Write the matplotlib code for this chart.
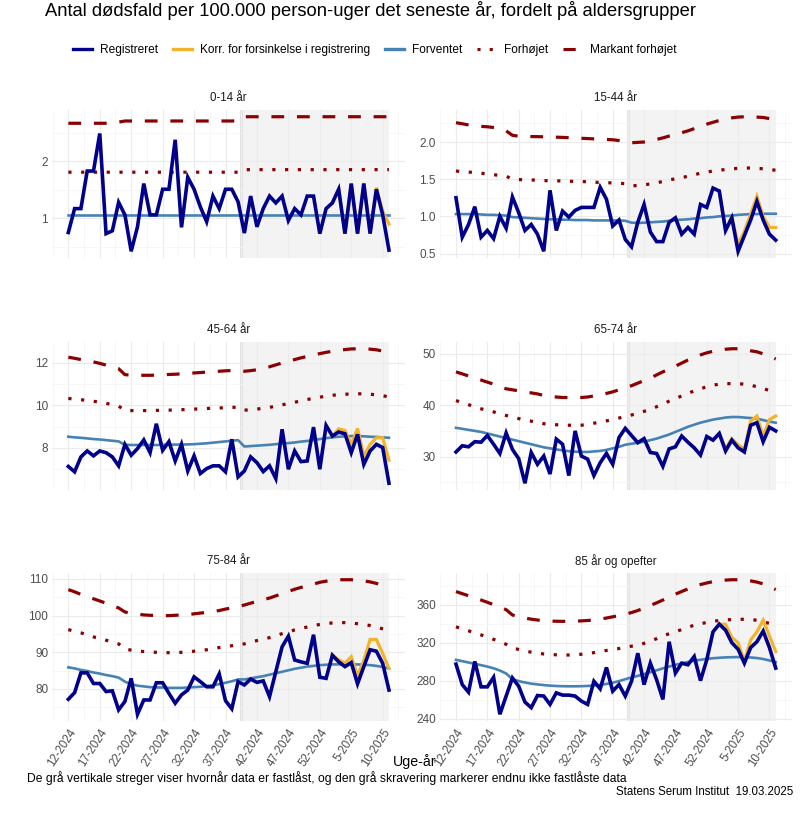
import matplotlib
matplotlib.use("Agg")
import matplotlib.pyplot as plt
from matplotlib.lines import Line2D
from matplotlib.ticker import FixedLocator, MultipleLocator, FormatStrFormatter

plt.rcParams['font.family'] = ['Liberation Sans', 'DejaVu Sans']

# ---------------- data ----------------
weeks = [f"{w}-2024" for w in range(12, 53)] + [f"{w}-2025" for w in range(1, 12)]
tick_labels = ["12-2024", "17-2024", "22-2024", "27-2024", "32-2024", "37-2024",
               "42-2024", "47-2024", "52-2024", "5-2025", "10-2025"]
locked_after = "39-2024"   # last week with locked data (grey line / shading start)

titles = ["0-14 år", "15-44 år", "45-64 år", "65-74 år", "75-84 år", "85 år og opefter"]

reg_0_14 = [0.75, 1.17, 1.17, 1.83, 1.83, 2.49, 0.73, 0.78, 1.28, 1.06, 0.42, 0.85, 1.61,
            1.06, 1.06, 1.51, 1.51, 2.38, 0.84, 1.72, 1.51, 1.20, 0.94, 1.39, 1.17, 1.51,
            1.51, 1.29, 0.74, 1.39, 0.85, 1.17, 1.39, 1.27, 1.39, 0.96, 1.17, 1.06, 1.39,
            1.39, 0.73, 1.17, 1.27, 1.51, 0.73, 1.61, 0.73, 1.61, 0.73, 1.51, 1.06, 0.44]
korr_0_14 = [1.27, 1.51, 0.73, 1.61, 0.74, 1.62, 0.75, 1.54, 1.12, 0.90]
exp_0_14 = [1.05, 1.05, 1.05, 1.05, 1.05, 1.05, 1.05, 1.05, 1.05, 1.05, 1.05, 1.05, 1.05,
            1.05, 1.05, 1.05, 1.05, 1.05, 1.05, 1.05, 1.05, 1.05, 1.05, 1.05, 1.05, 1.05,
            1.05, 1.05, 1.05, 1.05, 1.05, 1.05, 1.05, 1.05, 1.05, 1.05, 1.05, 1.05, 1.05,
            1.05, 1.05, 1.05, 1.05, 1.05, 1.05, 1.05, 1.05, 1.05, 1.05, 1.05, 1.05, 1.05]
forh_0_14 = [1.81, 1.81, 1.81, 1.81, 1.81, 1.81, 1.81, 1.81, 1.81, 1.81, 1.81, 1.81, 1.81,
             1.81, 1.81, 1.81, 1.81, 1.81, 1.81, 1.81, 1.81, 1.81, 1.81, 1.81, 1.81, 1.81,
             1.81, 1.81, 1.855, 1.855, 1.855, 1.855, 1.855, 1.855, 1.855, 1.855, 1.855,
             1.855, 1.855, 1.855, 1.855, 1.855, 1.855, 1.855, 1.855, 1.855, 1.855, 1.855,
             1.855, 1.855, 1.855, 1.855]
mark_0_14 = [2.67, 2.67, 2.67, 2.67, 2.67, 2.67, 2.67, 2.67, 2.69, 2.71, 2.71, 2.71, 2.71,
             2.71, 2.71, 2.71, 2.71, 2.71, 2.71, 2.71, 2.71, 2.71, 2.71, 2.71, 2.71, 2.71,
             2.71, 2.715, 2.785, 2.785, 2.785, 2.785, 2.785, 2.785, 2.785, 2.785, 2.785,
             2.785, 2.785, 2.785, 2.785, 2.785, 2.785, 2.785, 2.785, 2.785, 2.785, 2.785,
             2.785, 2.785, 2.785, 2.785]

reg_15_44 = [1.25, 0.72, 0.89, 1.13, 0.72, 0.81, 0.70, 1.00, 0.84, 1.26, 1.05, 0.81, 0.89,
             0.76, 0.53, 1.35, 0.81, 1.07, 0.99, 1.08, 1.12, 1.12, 1.12, 1.39, 1.23, 0.87,
             0.95, 0.69, 0.59, 0.92, 1.16, 0.79, 0.66, 0.66, 0.92, 0.98, 0.76, 0.85, 0.76,
             1.16, 1.12, 1.38, 1.34, 0.81, 0.98, 0.53, 0.74, 0.95, 1.20, 0.95, 0.76, 0.68]
korr_15_44 = [1.34, 0.81, 1.00, 0.62, 0.80, 1.03, 1.27, 1.00, 0.85, 0.85]
exp_15_44 = [1.03, 1.03, 1.03, 1.03, 1.025, 1.02, 1.02, 1.015, 1.01, 0.99, 0.985, 0.98,
             0.975, 0.97, 0.965, 0.96, 0.96, 0.955, 0.955, 0.95, 0.95, 0.95, 0.945, 0.945,
             0.945, 0.945, 0.945, 0.94, 0.915, 0.91, 0.915, 0.92, 0.925, 0.93, 0.94, 0.95,
             0.955, 0.96, 0.97, 0.975, 0.985, 0.99, 1.0, 1.005, 1.01, 1.02, 1.025, 1.03,
             1.03, 1.035, 1.035, 1.035]
forh_15_44 = [1.61, 1.60, 1.595, 1.59, 1.58, 1.57, 1.56, 1.55, 1.54, 1.50, 1.495, 1.49,
              1.49, 1.485, 1.48, 1.48, 1.478, 1.475, 1.472, 1.47, 1.468, 1.465, 1.46,
              1.455, 1.452, 1.45, 1.445, 1.44, 1.41, 1.415, 1.425, 1.435, 1.45, 1.47, 1.49,
              1.505, 1.52, 1.54, 1.56, 1.58, 1.595, 1.61, 1.62, 1.63, 1.64, 1.645, 1.65,
              1.65, 1.645, 1.64, 1.63, 1.62]
mark_15_44 = [2.26, 2.245, 2.23, 2.22, 2.21, 2.205, 2.195, 2.18, 2.15, 2.09, 2.078, 2.075,
              2.073, 2.072, 2.07, 2.068, 2.065, 2.062, 2.058, 2.055, 2.05, 2.046, 2.042,
              2.038, 2.034, 2.03, 2.02, 2.01, 1.99, 1.995, 2.0, 2.015, 2.035, 2.055, 2.08,
              2.10, 2.125, 2.15, 2.18, 2.21, 2.24, 2.265, 2.29, 2.31, 2.325, 2.335, 2.34,
              2.34, 2.335, 2.33, 2.315, 2.30]

reg_45_64 = [7.13, 6.88, 7.58, 7.86, 7.63, 7.86, 7.78, 7.58, 7.16, 8.17, 7.66, 7.97, 8.38,
             7.78, 9.14, 7.89, 8.30, 7.39, 8.17, 6.92, 7.63, 6.80, 7.03, 7.16, 7.16, 6.88,
             8.41, 6.64, 6.92, 7.58, 7.31, 6.89, 7.16, 6.56, 8.88, 7.00, 7.86, 7.36, 7.39,
             8.98, 7.00, 9.06, 8.56, 8.75, 8.67, 7.78, 8.64, 7.23, 7.86, 8.17, 8.02, 6.34]
korr_45_64 = [8.56, 8.90, 8.83, 8.17, 8.92, 7.63, 8.17, 8.48, 8.48, 7.42]
exp_45_64 = [8.53, 8.50, 8.48, 8.45, 8.42, 8.40, 8.37, 8.34, 8.31, 8.15, 8.14, 8.14, 8.14,
             8.14, 8.14, 8.15, 8.15, 8.16, 8.16, 8.17, 8.18, 8.20, 8.22, 8.25, 8.28, 8.31,
             8.34, 8.37, 8.07, 8.09, 8.11, 8.13, 8.15, 8.18, 8.20, 8.23, 8.26, 8.30, 8.33,
             8.37, 8.42, 8.46, 8.50, 8.53, 8.55, 8.56, 8.56, 8.55, 8.53, 8.52, 8.50, 8.48]
forh_45_64 = [10.33, 10.30, 10.27, 10.24, 10.20, 10.15, 10.10, 10.04, 9.97, 9.77, 9.76,
              9.76, 9.76, 9.76, 9.77, 9.77, 9.78, 9.79, 9.80, 9.82, 9.83, 9.84, 9.86, 9.87,
              9.88, 9.90, 9.91, 9.92, 9.78, 9.80, 9.83, 9.87, 9.91, 9.97, 10.03, 10.09,
              10.15, 10.22, 10.28, 10.34, 10.39, 10.44, 10.48, 10.51, 10.53, 10.54, 10.55,
              10.55, 10.53, 10.50, 10.46, 10.40]
mark_45_64 = [12.27, 12.22, 12.16, 12.11, 12.05, 11.98, 11.90, 11.82, 11.73, 11.45, 11.43,
              11.42, 11.42, 11.42, 11.43, 11.44, 11.46, 11.47, 11.49, 11.51, 11.53, 11.55,
              11.57, 11.59, 11.61, 11.63, 11.645, 11.66, 11.61, 11.64, 11.68, 11.74, 11.82,
              11.91, 12.00, 12.08, 12.16, 12.24, 12.31, 12.38, 12.44, 12.50, 12.55, 12.59,
              12.63, 12.66, 12.67, 12.67, 12.65, 12.62, 12.56, 12.48]

reg_65_74 = [30.9, 32.1, 31.9, 32.9, 32.8, 34.1, 32.4, 30.6, 34.6, 31.4, 29.6, 24.8, 30.8,
             28.5, 30.1, 26.6, 33.4, 32.4, 26.3, 35.0, 30.1, 29.5, 26.3, 28.8, 30.6, 28.5,
             33.7, 35.5, 34.1, 32.7, 33.5, 30.8, 30.6, 28.1, 31.5, 31.9, 34.0, 32.8, 31.7,
             30.3, 33.9, 33.2, 34.5, 31.1, 33.2, 31.7, 30.9, 36.1, 36.6, 32.9, 35.7, 35.0]
korr_65_74 = [34.5, 31.6, 33.5, 32.3, 31.4, 36.9, 37.9, 34.0, 37.2, 37.9]
exp_65_74 = [35.6, 35.4, 35.2, 35.0, 34.8, 34.5, 34.2, 33.9, 33.6, 33.3, 33.0, 32.7, 32.4,
             32.1, 31.8, 31.6, 31.4, 31.2, 31.05, 30.95, 30.9, 30.9, 31.0, 31.1, 31.3, 31.6,
             31.9, 32.3, 32.5, 32.7, 32.9, 33.2, 33.5, 33.9, 34.3, 34.8, 35.3, 35.8, 36.2,
             36.6, 36.9, 37.2, 37.4, 37.6, 37.7, 37.7, 37.6, 37.5, 37.4, 37.1, 36.8, 36.6]
forh_65_74 = [40.9, 40.5, 40.1, 39.7, 39.3, 39.0, 38.7, 38.3, 38.0, 37.7, 37.4, 37.1, 36.9,
              36.6, 36.4, 36.3, 36.2, 36.1, 36.1, 36.1, 36.1, 36.3, 36.5, 36.7, 36.95, 37.2,
              37.5, 37.8, 38.1, 38.4, 38.8, 39.2, 39.7, 40.2, 40.8, 41.3, 41.8, 42.3, 42.8,
              43.2, 43.6, 43.9, 44.1, 44.2, 44.2, 44.2, 44.1, 43.9, 43.6, 43.2, 42.9, 42.6]
mark_65_74 = [46.5, 46.1, 45.7, 45.3, 44.9, 44.5, 44.1, 43.6, 43.2, 43.0, 42.8, 42.6, 42.4,
              42.2, 41.9, 41.7, 41.6, 41.5, 41.5, 41.5, 41.5, 41.6, 41.8, 42.0, 42.3, 42.6,
              43.0, 43.4, 43.8, 44.3, 44.8, 45.3, 45.9, 46.5, 47.0, 47.6, 48.2, 48.8, 49.3,
              49.8, 50.2, 50.5, 50.7, 50.9, 51.0, 51.0, 50.9, 50.6, 50.4, 50.0, 49.5, 49.0]

reg_75_84 = [77.2, 79.0, 84.4, 84.4, 81.5, 81.5, 79.3, 79.5, 74.3, 76.6, 82.9, 73.1, 77.0,
             77.0, 81.7, 81.7, 78.8, 76.1, 78.4, 79.7, 83.3, 82.0, 80.6, 80.6, 84.1, 76.8,
             74.6, 82.0, 81.1, 82.7, 81.8, 82.2, 77.9, 84.7, 91.5, 94.4, 87.9, 87.4, 87.0,
             94.8, 83.2, 82.9, 89.2, 87.4, 86.1, 87.2, 81.4, 86.1, 90.7, 90.3, 87.0, 79.7]
korr_75_84 = [89.2, 88.0, 87.0, 88.8, 83.6, 87.8, 93.5, 93.5, 89.7, 85.6]
exp_75_84 = [85.9, 85.6, 85.2, 84.9, 84.5, 84.2, 83.8, 83.5, 83.1, 82.0, 81.3, 80.9, 80.7,
             80.5, 80.4, 80.4, 80.3, 80.3, 80.3, 80.4, 80.5, 80.6, 80.8, 81.0, 81.3, 81.7,
             82.1, 82.6, 82.6, 82.9, 83.2, 83.5, 83.9, 84.3, 84.7, 85.1, 85.5, 85.8, 86.1,
             86.3, 86.5, 86.6, 86.7, 86.7, 86.7, 86.7, 86.7, 86.6, 86.5, 86.3, 86.0, 85.6]
forh_75_84 = [96.2, 95.7, 95.3, 94.8, 94.2, 93.8, 93.3, 92.8, 92.3, 90.9, 90.6, 90.4, 90.2,
              90.1, 90.0, 89.9, 89.9, 89.9, 90.0, 90.1, 90.3, 90.5, 90.7, 91.0, 91.3, 91.5,
              91.8, 92.1, 92.3, 92.8, 93.2, 93.6, 94.0, 94.5, 95.1, 95.6, 96.1, 96.5, 96.9,
              97.3, 97.6, 97.9, 98.0, 98.1, 98.1, 98.0, 97.8, 97.6, 97.3, 96.9, 96.4, 96.0]
mark_75_84 = [107.1, 106.5, 105.8, 105.2, 104.6, 104.0, 103.4, 102.7, 102.1, 101.0, 100.6,
              100.4, 100.2, 100.1, 100.05, 100.0, 100.0, 100.1, 100.2, 100.3, 100.5, 100.7,
              100.9, 101.1, 101.4, 101.8, 102.1, 102.5, 102.9, 103.4, 103.9, 104.4, 104.8,
              105.4, 106.0, 106.6, 107.2, 107.7, 108.2, 108.6, 109.1, 109.4, 109.6, 109.8,
              109.8, 109.8, 109.7, 109.5, 109.2, 108.8, 108.3, 107.8]

reg_85 = [297.4, 275.8, 267.8, 300.2, 273.4, 273.4, 283.5, 244.5, 263.7, 282.8, 274.1,
          257.4, 251.5, 264.3, 263.7, 254.9, 267.1, 264.7, 264.7, 263.7, 258.4, 254.9,
          279.3, 271.3, 293.9, 268.9, 275.8, 263.7, 279.3, 308.9, 275.8, 298.4, 281.0,
          260.2, 321.0, 288.0, 298.4, 296.7, 305.4, 280.0, 301.9, 331.5, 339.5, 333.2,
          320.0, 313.0, 298.4, 314.8, 321.0, 332.2, 314.8, 293.2]
korr_85 = [339.5, 339.5, 325.6, 320.0, 300.2, 322.8, 331.5, 343.7, 327.0, 310.6]
exp_85 = [301.9, 300.5, 299.1, 297.7, 296.3, 294.8, 293.0, 290.6, 287.5, 281.5, 279.5,
          278.0, 276.8, 276.0, 275.3, 274.7, 274.3, 274.1, 274.0, 274.0, 274.1, 274.4,
          274.8, 275.5, 276.5, 277.8, 279.5, 281.5, 283.3, 285.0, 286.9, 288.9, 290.9,
          292.9, 294.8, 296.6, 298.2, 299.6, 300.9, 302.0, 302.9, 303.6, 304.1, 304.5,
          304.7, 304.8, 304.7, 304.4, 303.8, 302.8, 301.2, 299.5]
forh_85 = [336.7, 334.6, 332.5, 330.4, 328.2, 325.9, 323.5, 321.0, 318.3, 314.8, 312.8,
           311.2, 310.0, 309.0, 308.1, 307.6, 307.2, 307.0, 307.0, 307.3, 307.8, 308.6,
           309.5, 310.6, 311.8, 312.8, 313.8, 315.2, 316.3, 317.3, 319.3, 321.8, 324.2,
           327.0, 329.5, 331.6, 333.8, 336.3, 338.4, 340.0, 341.3, 342.5, 343.4, 344.0,
           344.4, 344.6, 344.7, 344.5, 343.6, 342.0, 340.3, 338.5]
mark_85 = [373.9, 371.7, 369.5, 367.3, 365.0, 362.6, 360.1, 357.5, 354.8, 349.2, 347.5,
           346.0, 344.8, 343.9, 343.2, 342.8, 342.6, 342.5, 342.5, 342.7, 343.0, 343.4,
           344.0, 344.9, 346.0, 347.3, 348.6, 350.0, 351.8, 353.9, 356.5, 359.3, 362.0,
           365.0, 368.1, 371.2, 374.0, 376.7, 379.2, 381.3, 383.0, 384.4, 385.4, 386.0,
           386.4, 386.4, 386.0, 385.2, 383.9, 382.0, 379.3, 376.0]

# ---------------- styling ----------------
C_REG = "#00008B"
C_KORR = "#F2B42B"
C_EXP = "#4682B4"
C_RED = "#8B0000"
GRID_MAJ = "#ebebeb"
GRID_MIN = "#f4f4f4"
TXT = "#4d4d4d"

W, H = 800, 830
fig = plt.figure(figsize=(W / 100, H / 100), dpi=100)

panels = [
    (reg_0_14, korr_0_14, exp_0_14, forh_0_14, mark_0_14, 1.0, "%g"),
    (reg_15_44, korr_15_44, exp_15_44, forh_15_44, mark_15_44, 0.5, "%.1f"),
    (reg_45_64, korr_45_64, exp_45_64, forh_45_64, mark_45_64, 2.0, "%g"),
    (reg_65_74, korr_65_74, exp_65_74, forh_65_74, mark_65_74, 10.0, "%g"),
    (reg_75_84, korr_75_84, exp_75_84, forh_75_84, mark_75_84, 10.0, "%g"),
    (reg_85, korr_85, exp_85, forh_85, mark_85, 40.0, "%g"),
]

col_lr = [(52.3, 405.0), (440.0, 791.7)]
row_tb = [(110, 258), (342, 490), (573, 721)]

x = list(range(len(weeks)))
n = len(weeks)
pad = 0.05 * (n - 1)
tick_pos = [weeks.index(t) for t in tick_labels]
minor_pos = [p - 2.5 for p in tick_pos] + [tick_pos[-1] + 2.5]
shade_start = weeks.index(locked_after) + 0.4

for k, (reg, korr, exp, forh, mark, step, fmt) in enumerate(panels):
    r, c = divmod(k, 2)
    l, rr = col_lr[c]
    t, b = row_tb[r]
    ax = fig.add_axes([l / W, 1 - b / H, (rr - l) / W, (b - t) / H])
    ax.set_xlim(-pad, n - 1 + pad)
    for s in ax.spines.values():
        s.set_visible(False)
    ax.set_axisbelow(True)

    ax.axvspan(shade_start, n - 1, color="#f3f3f3", lw=0, zorder=0.1)
    ax.axvline(shade_start, color="#e3e3e3", lw=2.2, zorder=0.2)

    ax.plot(x, mark, color=C_RED, lw=2.3, dashes=(4, 4), solid_capstyle='butt',
            dash_capstyle='butt', zorder=2)
    ax.plot(x, forh, color=C_RED, lw=2.3, dashes=(1, 3), dash_capstyle='butt', zorder=2)
    ax.plot(x, exp, color=C_EXP, lw=1.9, zorder=2.5)
    kx = x[n - len(korr):]
    ax.plot(kx, korr, color=C_KORR, lw=2.3, zorder=3, solid_joinstyle='miter')
    ax.plot(x, reg, color=C_REG, lw=2.6, zorder=4, solid_joinstyle='miter')

    ax.margins(y=0.05)
    ax.yaxis.set_major_locator(MultipleLocator(step))
    ax.yaxis.set_minor_locator(MultipleLocator(step / 2))
    ax.yaxis.set_major_formatter(FormatStrFormatter(fmt))
    ax.xaxis.set_major_locator(FixedLocator(tick_pos))
    ax.xaxis.set_minor_locator(FixedLocator(minor_pos))
    ax.grid(which='major', color=GRID_MAJ, lw=0.8, zorder=0.5)
    ax.grid(which='minor', color=GRID_MIN, lw=0.5, zorder=0.5)
    ax.tick_params(which='both', length=0)
    ax.tick_params(axis='y', labelsize=8.5, labelcolor=TXT, pad=3)
    if r == 2:
        ax.set_xticklabels(tick_labels, rotation=57, ha='right', va='top',
                           rotation_mode='anchor', fontsize=8.3, color=TXT)
        ax.tick_params(axis='x', pad=4)
    else:
        ax.set_xticklabels([])
    fig.text((l + rr) / 2 / W, 1 - (t - 12) / H, titles[k], ha='center', va='center',
             fontsize=8.3, color="#1a1a1a")

fig.text(45 / W, 1 - 10 / H,
         "Antal dødsfald per 100.000 person-uger det seneste år, fordelt på aldersgrupper",
         ha='left', va='center', fontsize=13.2, color="black")

handles = [
    Line2D([], [], color=C_REG, lw=2.4),
    Line2D([], [], color=C_KORR, lw=2.4),
    Line2D([], [], color=C_EXP, lw=2.4),
    Line2D([], [], color=C_RED, lw=2.2, dashes=(1, 3)),
    Line2D([], [], color=C_RED, lw=2.2, dashes=(4, 4)),
]
labels = ["Registreret", "Korr. for forsinkelse i registrering", "Forventet", "Forhøjet",
          "Markant forhøjet"]
fig.legend(handles, labels, loc='center', bbox_to_anchor=(375 / W, 1 - 50 / H), ncol=5,
           frameon=False, fontsize=8.6, handlelength=1.6, columnspacing=1.2,
           handletextpad=0.7)

fig.text(415 / W, 1 - 762 / H, "Uge-år", ha='center', va='center', fontsize=10.2,
         color="black")
fig.text(27 / W, 1 - 778 / H,
         "De grå vertikale streger viser hvornår data er fastlåst, og den grå skravering "
         "markerer endnu ikke fastlåste data",
         ha='left', va='center', fontsize=8.7, color="black")
fig.text(793 / W, 1 - 792 / H, "Statens Serum Institut  19.03.2025", ha='right',
         va='center', fontsize=8.3, color="black")

fig.savefig("out.png", dpi=100, facecolor="white")
